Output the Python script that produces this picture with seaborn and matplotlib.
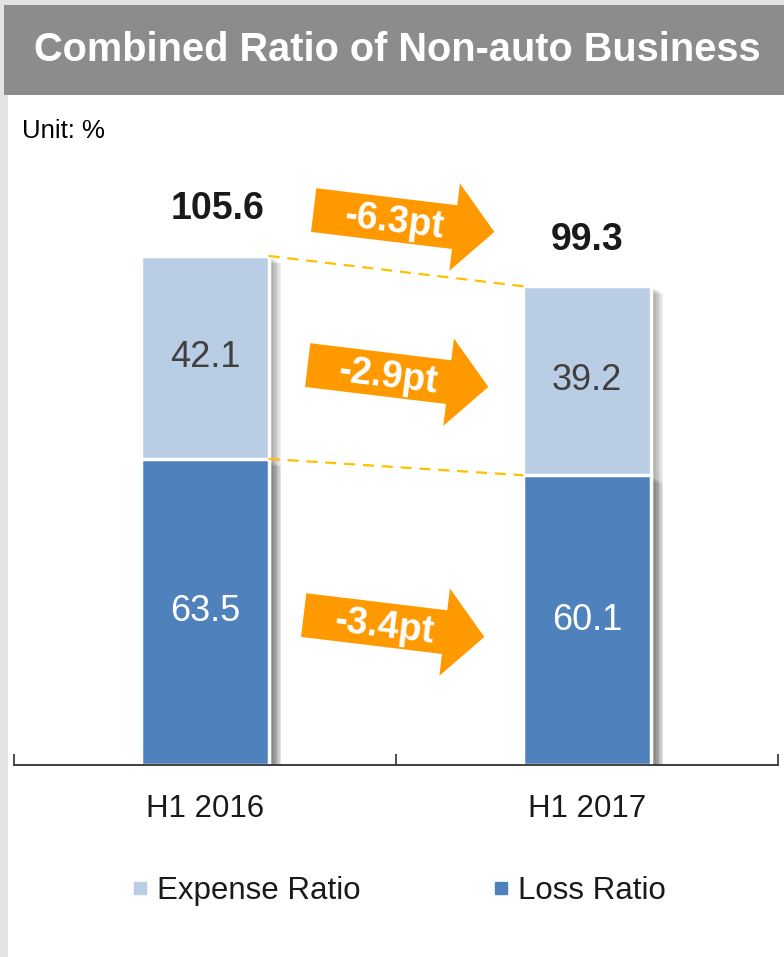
import numpy as np
import pandas as pd
import matplotlib
matplotlib.use("Agg")
import matplotlib.pyplot as plt
import matplotlib.patheffects as pe
from matplotlib.patches import Polygon, Rectangle
from matplotlib.lines import Line2D
import seaborn as sns

# ---- data ----
periods = ["H1 2016", "H1 2017"]
loss_ratio = [63.5, 60.1]
expense_ratio = [42.1, 39.2]
combined_ratio = [105.6, 99.3]
change_labels = ["-6.3pt", "-2.9pt", "-3.4pt"]
series_names = ["Expense Ratio", "Loss Ratio"]
title_text = "Combined Ratio of Non-auto Business"
unit_text = "Unit: %"

sns.set_theme(style="white")
plt.rcParams["font.family"] = ["Liberation Sans", "DejaVu Sans"]

C_EXP = "#b9cde5"
C_LOSS = "#4f81bd"
C_ORANGE = "#ff9900"
C_DASH = "#ffc000"

W, H = 784, 957
fig = plt.figure(figsize=(W / 100, H / 100), dpi=100)
fig.patch.set_facecolor("#e3e3e3")

def fx(px):
    return px / W

def fy(py):
    return 1 - py / H

# white panel and title bar
fig.patches.append(Rectangle((fx(8), 0), 1 - fx(8), fy(95), transform=fig.transFigure,
                             facecolor="white", edgecolor="none", zorder=-5))
fig.patches.append(Rectangle((fx(4), fy(95)), 1 - fx(4), fy(5) - fy(95), transform=fig.transFigure,
                             facecolor="#8c8c8c", edgecolor="none", zorder=-5))
fig.text(fx(397), fy(50), title_text, color="white", fontsize=28.6, fontweight="bold",
         ha="center", va="center")
fig.text(fx(22), fy(131), unit_text, color="black", fontsize=18.5, ha="left", va="center")

ax = fig.add_axes([fx(14), fy(765), fx(778) - fx(14), fy(160) - fy(765)])
ax.set_facecolor("none")

df = pd.DataFrame({"period": periods, "loss": loss_ratio, "expense": expense_ratio,
                   "total": combined_ratio})

bw = 0.333
shadow = [pe.SimplePatchShadow(offset=(k, -k * 0.6), shadow_rgbFace="#606060", alpha=0.09)
          for k in range(2, 10)] + [pe.Normal()]
sns.barplot(data=df, x="period", y="total", color=C_EXP, width=bw, ax=ax,
            saturation=1, edgecolor="white", linewidth=2.5)
sns.barplot(data=df, x="period", y="loss", color=C_LOSS, width=bw, ax=ax,
            saturation=1, edgecolor="white", linewidth=2.5)
for p in ax.patches:
    p.set_path_effects(shadow)

ax.set_xlim(-0.5, 1.5)
ax.set_ylim(0, 125.5)
ax.set_xlabel("")
ax.set_ylabel("")
ax.set_yticks([])
for s in ["top", "right", "left"]:
    ax.spines[s].set_visible(False)
ax.spines["bottom"].set_color("#303030")
ax.spines["bottom"].set_linewidth(1.3)
ax.spines["bottom"].set_zorder(4)
ax.set_xticks([0, 1])
ax.set_xticklabels(periods, fontsize=22.5, color="#1a1a1a")
ax.tick_params(axis="x", which="major", bottom=False, length=0, pad=21)
ax.set_xticks([-0.5, 0.5, 1.5], minor=True)
ax.tick_params(axis="x", which="minor", bottom=True, length=8, width=1.2, direction="in",
               color="#303030")

# value labels
for i in range(len(periods)):
    ax.text(i, loss_ratio[i] / 2, f"{loss_ratio[i]:.1f}", ha="center", va="center",
            fontsize=26, color="white")
    ax.text(i, loss_ratio[i] + expense_ratio[i] / 2, f"{expense_ratio[i]:.1f}", ha="center",
            va="center", fontsize=26, color="#404040")
tot_dx = [0.034, 0.0]
for i in range(len(periods)):
    ax.text(i + tot_dx[i], combined_ratio[i] + 9.7, f"{combined_ratio[i]:.1f}", ha="center",
            va="center", fontsize=27, fontweight="bold", color="#1a1a1a")

# dashed connector lines
ax.plot([bw / 2, 1 - bw / 2], [combined_ratio[0], combined_ratio[1]], ls=(0, (5, 3.5)),
        color=C_DASH, lw=1.6, zorder=1)
ax.plot([bw / 2, 1 - bw / 2], [loss_ratio[0], loss_ratio[1]], ls=(0, (5, 3.5)),
        color=C_DASH, lw=1.6, zorder=1)

# arrows (decorative, in pixel layout)
def draw_arrow(cx, cy, label, angle_deg=6.9):
    half_body = 22
    half_head = 44
    x0, xb, xt = -91, 51, 91
    pts = np.array([[x0, half_body], [xb, half_body], [xb, half_head], [xt, 0],
                    [xb, -half_head], [xb, -half_body], [x0, -half_body]], dtype=float)
    a = np.deg2rad(-angle_deg)
    R = np.array([[np.cos(a), -np.sin(a)], [np.sin(a), np.cos(a)]])
    pts = pts @ R.T
    px = cx + pts[:, 0]
    py = cy - pts[:, 1]
    poly = Polygon(np.column_stack([fx(px), fy(py)]), closed=True, transform=fig.transFigure,
                   facecolor=C_ORANGE, edgecolor="none", zorder=5)
    fig.patches.append(poly)
    fig.text(fx(cx - 10), fy(cy + 1), label, rotation=-angle_deg, rotation_mode="anchor",
             ha="center", va="center", fontsize=27, fontweight="bold", color="white", zorder=6)

draw_arrow(404, 221, change_labels[0])
draw_arrow(398, 376, change_labels[1])
draw_arrow(394, 626, change_labels[2])

# legend
handles = [Line2D([], [], ls="none", marker="s", markersize=8, color=C_EXP),
           Line2D([], [], ls="none", marker="s", markersize=8, color=C_LOSS)]
fig.legend(handles, series_names, loc="center", bbox_to_anchor=(fx(400), fy(891)),
           ncol=2, frameon=False, fontsize=22.5, handlelength=0.4, handletextpad=0.35,
           columnspacing=4.3, labelcolor="#1a1a1a")

fig.savefig("out.png", dpi=100)
